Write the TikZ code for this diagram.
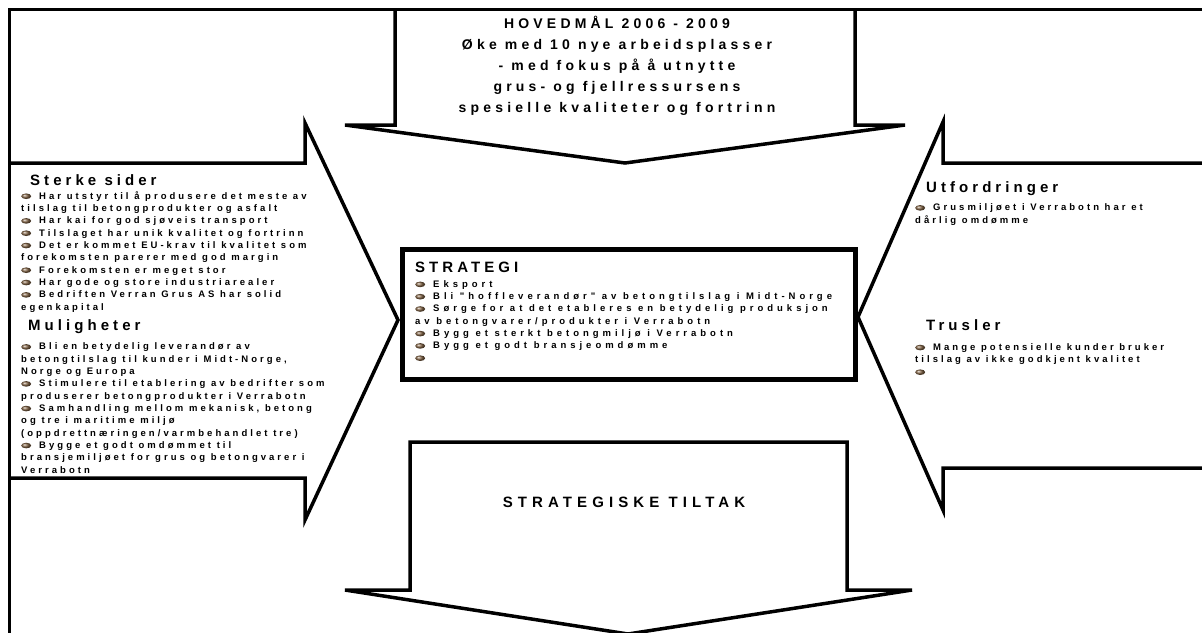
\documentclass[tikz,border=0pt]{standalone}
\usepackage{fontspec}
\setmainfont{Liberation Sans}
\newfontfamily\spaced{Liberation Sans Bold}[LetterSpace=32]
\newfontfamily\spacedhead{Liberation Sans Bold}[LetterSpace=27]
\newfontfamily\spacedbox{Liberation Sans Bold}[LetterSpace=42]
\newfontfamily\spacedgoal{Liberation Sans Bold}[LetterSpace=30]
\newfontfamily\spacedtiltak{Liberation Sans Bold}[LetterSpace=34]
\definecolor{bronze}{RGB}{130,100,70}
\newcommand{\listfont}{\spaced\fontsize{9.5}{12.33}\selectfont}
\newcommand{\boxlistfont}{\spacedbox\fontsize{9.5}{12.3}\selectfont}
\newcommand{\headfont}{\spacedhead\fontsize{15}{18}\selectfont}
\newcommand{\goalfont}{\spacedgoal\fontsize{14}{21}\selectfont}
\newcommand{\tiltakfont}{\spacedtiltak\fontsize{15}{18}\selectfont}
\newcommand{\bul}{\tikz[baseline=-2.8pt]\shade[ball color=bronze] (0,0) ellipse [x radius=5pt, y radius=2.8pt];\hspace{8pt}}
\tikzstyle{frame} = [line width=3pt]
\tikzstyle{callout} = [line width=3.5pt]
\tikzstyle{strategybox} = [line width=5pt]
\tikzstyle{heading} = [anchor=base west, inner sep=0pt, font=\headfont]
\tikzstyle{bullets} = [anchor=base west, inner sep=0pt, align=left, font=\listfont]
\tikzstyle{boxbullets} = [anchor=base west, inner sep=0pt, align=left, font=\boxlistfont]
\tikzstyle{goal} = [anchor=base, inner sep=0pt, align=center, font=\goalfont]
\tikzstyle{tiltak} = [anchor=base, inner sep=0pt, font=\tiltakfont]

\begin{document}
\begin{tikzpicture}[x=1pt, y=-1pt]
	\useasboundingbox (0,0) rectangle (1202,632);
	\clip (0,0) rectangle (1202,632);
	\draw[frame] (9,645) -- (9,9) -- (1215,9);
	% callouts
	\draw[callout] (395,9) -- (395,125) -- (345,125) -- (625,163) -- (905,125) -- (855,125) -- (855,9);
	\draw[callout] (9,163) -- (305,163) -- (305,123) -- (398,320) -- (305,520) -- (305,478) -- (9,478);
	\draw[callout] (1215,163) -- (943,163) -- (943,122) -- (858,317) -- (943,510) -- (943,468) -- (1215,468);
	\draw[callout] (410,590) -- (410,442) -- (847,442) -- (847,590) -- (912,590) -- (628,634) -- (345,590) -- cycle;
	\draw[strategybox] (402.5,249.5) rectangle (855.5,379.5);
	% texts, placed at the baseline of their last line
	\node (goal) at (617, 112) [goal] {HOVEDMÅL 2006 - 2009\\Øke med 10 nye arbeidsplasser\\- med fokus på å utnytte\\grus- og fjellressursens\\spesielle kvaliteter og fortrinn};
	\node (sterke) at (30, 185) [heading] {Sterke sider};
	\node (sterkelist) at (21, 310) [bullets] {\bul Har utstyr til å produsere det meste av\\tilslag til betongprodukter og asfalt\\\bul Har kai for god sjøveis transport\\\bul Tilslaget har unik kvalitet og fortrinn\\\bul Det er kommet EU-krav til kvalitet som\\forekomsten parerer med god margin\\\bul Forekomsten er meget stor\\\bul Har gode og store industriarealer\\\bul Bedriften Verran Grus AS har solid\\egenkapital};
	\node (muligheter) at (28, 330) [heading] {Muligheter};
	\node (mulighetlist) at (21, 473) [bullets] {\bul Bli en betydelig leverandør av\\betongtilslag til kunder i Midt-Norge,\\Norge og Europa\\\bul Stimulere til etablering av bedrifter som\\produserer betongprodukter i Verrabotn\\\bul Samhandling mellom mekanisk, betong\\og tre i maritime miljø\\(oppdrettnæringen/varmbehandlet tre)\\\bul Bygge et godt omdømmet til\\bransjemiljøet for grus og betongvarer i\\Verrabotn};
	\node (strategi) at (415, 272) [heading] {STRATEGI};
	\node (strategilist) at (415, 361) [boxbullets] {\bul Eksport\\\bul Bli "hoffleverandør" av betongtilslag i Midt-Norge\\\bul Sørge for at det etableres en betydelig produksjon\\av betongvarer/produkter i Verrabotn\\\bul Bygg et sterkt betongmiljø i Verrabotn\\\bul Bygg et godt bransjeomdømme\\\bul};
	\node (utfordringer) at (926, 192) [heading] {Utfordringer};
	\node (utfordringlist) at (915, 223) [bullets] {\bul Grusmiljøet i Verrabotn har et\\dårlig omdømme};
	\node (trusler) at (926, 330) [heading] {Trusler};
	\node (truslerlist) at (915, 375) [bullets] {\bul Mange potensielle kunder bruker\\tilslag av ikke godkjent kvalitet\\\bul};
	\node (tiltak) at (624, 507) [tiltak] {STRATEGISKE TILTAK};
\end{tikzpicture}
\end{document}
